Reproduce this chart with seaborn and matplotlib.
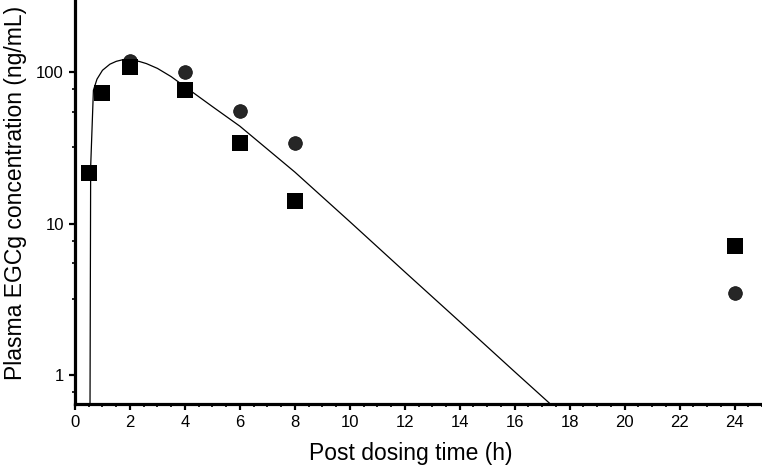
#!/usr/bin/env python3
import matplotlib
matplotlib.use("Agg")
import matplotlib.pyplot as plt
import matplotlib.ticker as mticker
import pandas as pd
import seaborn as sns

# observed points (h, ng/mL)
time_square = [0.5, 1, 2, 4, 6, 8, 24]
conc_square = [21.5, 72.6, 108, 76.4, 34, 14.1, 7.1]

time_circle = [2, 4, 6, 8, 24]
conc_circle = [119, 99.7, 55.5, 34, 3.49]

# fitted curve
time_fit = [0.545, 0.57, 0.67, 0.8, 1.0, 1.27, 1.5, 1.9, 2.36, 2.6, 3.0, 3.5,
            4.0, 5.0, 6.0, 8.0, 10.0, 12.0, 14.0, 16.0, 17.27]
conc_fit = [0.5, 23.7, 76, 90, 103, 113, 118, 123, 117.5, 114, 106, 93.5,
            80.3, 59.3, 44, 21.9, 10.3, 4.8, 2.25, 1.05, 0.65]

x_ticks = list(range(0, 25, 2))
y_ticks = [1, 10, 100]
y_minor = [0.77, 3.2, 5.5, 7.7, 32, 55, 77]


def main() -> None:
    sns.set_theme(style="ticks")
    plt.rcParams["font.family"] = ["Liberation Sans", "DejaVu Sans"]

    fit = pd.DataFrame({"time": time_fit, "conc": conc_fit})
    sq = pd.DataFrame({"time": time_square, "conc": conc_square})
    ci = pd.DataFrame({"time": time_circle, "conc": conc_circle})

    fig = plt.figure(figsize=(7.62, 4.69), dpi=100)
    ax = fig.add_axes([75 / 762, 65 / 469, 687 / 762, 404 / 469])
    ax.set_yscale("log")

    sns.lineplot(data=fit, x="time", y="conc", color="black", linewidth=0.9,
                 estimator=None, sort=False, ax=ax)
    sns.scatterplot(data=ci, x="time", y="conc", marker="o", s=96,
                    color="#262626", edgecolor="#111111", linewidth=0.6,
                    zorder=3, ax=ax)
    sns.scatterplot(data=sq, x="time", y="conc", marker="s", s=118,
                    color="black", linewidth=0, zorder=4, ax=ax)

    ax.set_xlim(0, 25)
    ax.set_ylim(0.643, 300)
    ax.xaxis.set_major_locator(mticker.FixedLocator(x_ticks))
    ax.xaxis.set_minor_locator(mticker.MultipleLocator(0.5))
    ax.yaxis.set_major_locator(mticker.FixedLocator(y_ticks))
    ax.yaxis.set_major_formatter(mticker.FixedFormatter([str(v) for v in y_ticks]))
    ax.yaxis.set_minor_locator(mticker.FixedLocator(y_minor))
    ax.yaxis.set_minor_formatter(mticker.NullFormatter())

    for side in ["top", "right"]:
        ax.spines[side].set_visible(False)
    for side in ["left", "bottom"]:
        ax.spines[side].set_linewidth(2.3)
        ax.spines[side].set_color("black")

    ax.tick_params(which="major", length=4, width=1.6, color="black",
                   labelsize=12, labelcolor="black", pad=4)
    ax.tick_params(which="minor", length=2.5, width=1.2, color="black")

    label_font = {"family": ["Liberation Sans", "DejaVu Sans"],
                  "size": 16.5, "color": "black"}
    ax.set_xlabel("Post dosing time (h)", fontdict=label_font)
    ax.set_ylabel("Plasma EGCg concentration (ng/mL)", fontdict=label_font)
    ax.xaxis.set_label_coords(0.488, -0.094)
    ax.yaxis.set_label_coords(-0.07, 0.522)

    fig.savefig("out.png", dpi=100)
    plt.close(fig)


if __name__ == "__main__":
    main()
